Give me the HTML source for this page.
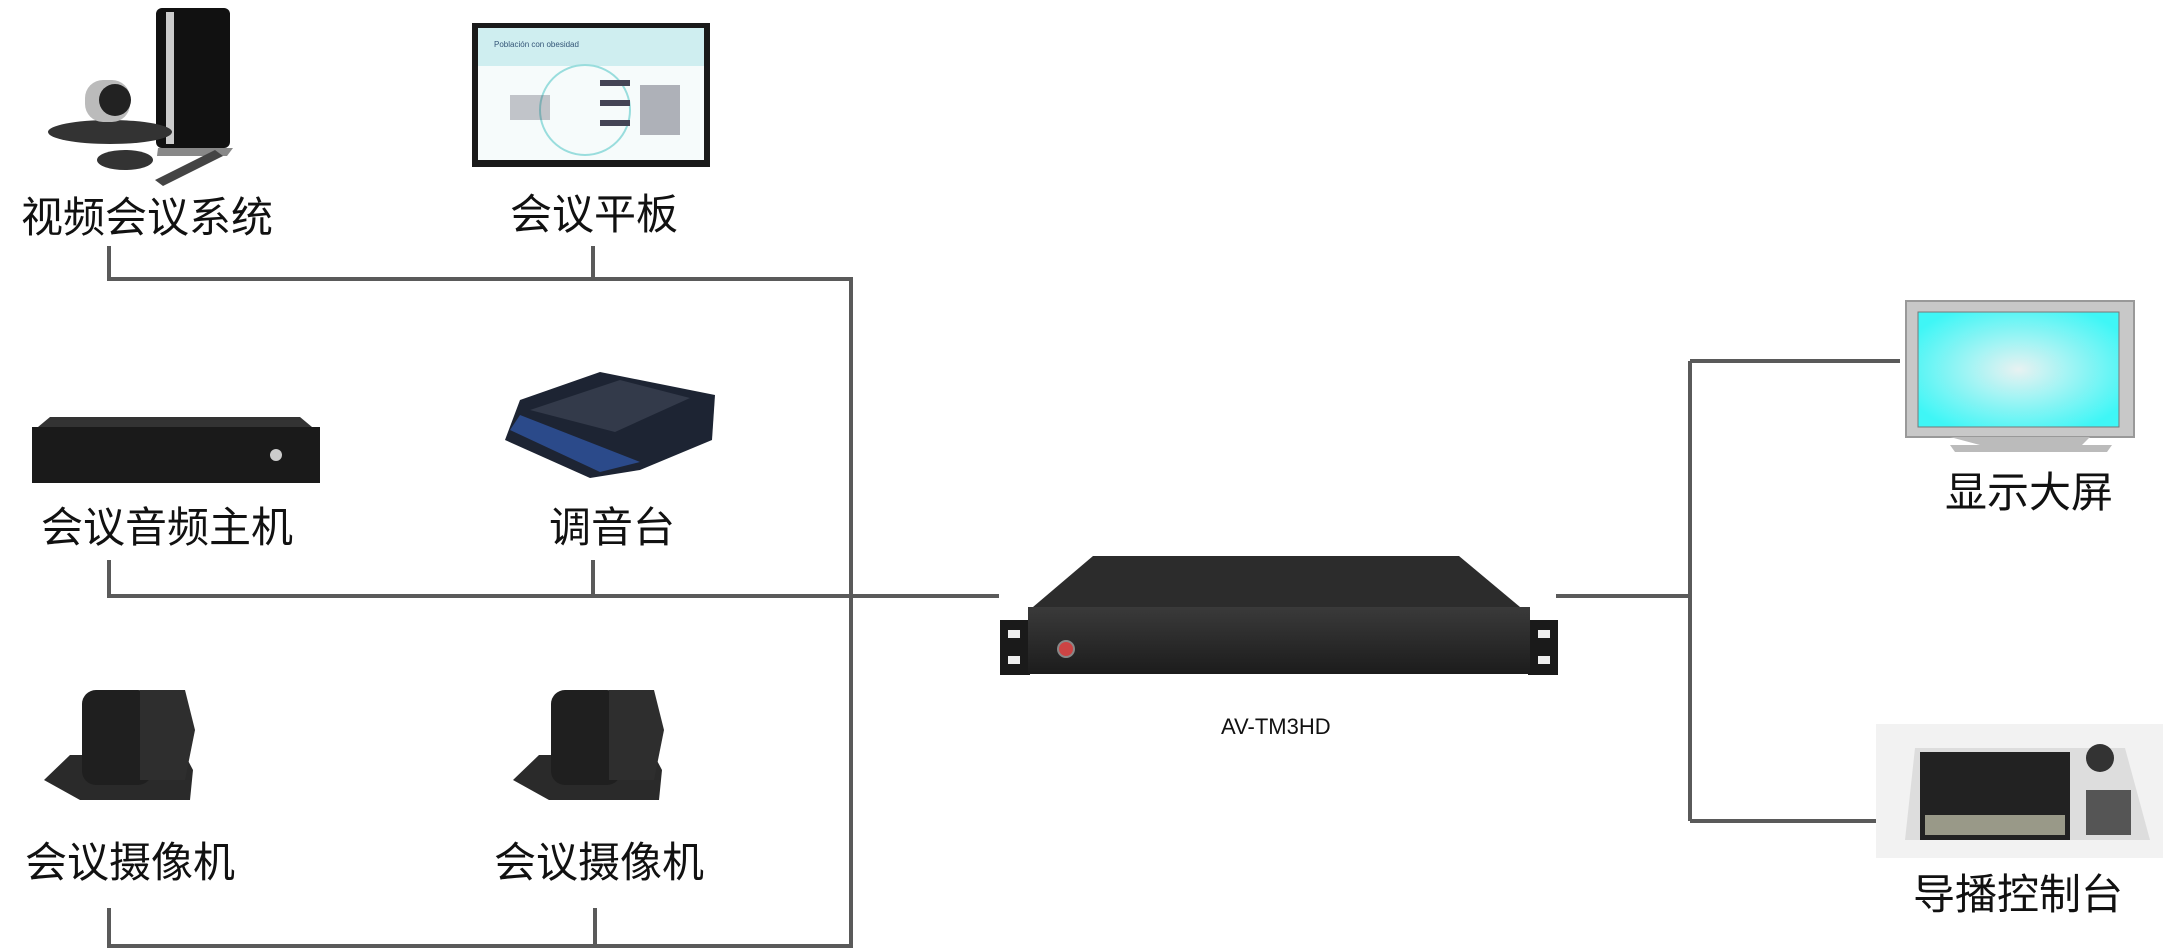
<!DOCTYPE html>
<html><head><meta charset="utf-8"><style>
html,body{margin:0;padding:0;background:#fff;width:2163px;height:950px;overflow:hidden}
svg{display:block}
text{font-family:"Liberation Sans","Noto Sans CJK SC",sans-serif;fill:#111}
</style></head><body>
<svg width="2163" height="950" viewBox="0 0 2163 950" xmlns="http://www.w3.org/2000/svg">
<defs>
<radialGradient id="scr" cx="50%" cy="50%" r="60%"><stop offset="0" stop-color="#e8f2f2"/><stop offset="1" stop-color="#3ff6f6"/></radialGradient>
<linearGradient id="box" x1="0" y1="0" x2="0" y2="1"><stop offset="0" stop-color="#3a3a3a"/><stop offset="1" stop-color="#1c1c1c"/></linearGradient>
</defs>
<g stroke="#5a5a5a" stroke-width="4" fill="none">
<path d="M109 246V279H851V946H109V908"/>
<path d="M593 246V279"/>
<path d="M109 560V596H999"/>
<path d="M593 560V596"/>
<path d="M595 908V946"/>
<path d="M1556 596H1690"/>
<path d="M1690 361V821"/>
<path d="M1690 361H1900"/>
<path d="M1690 821H1876"/>
</g>
<!-- video conf system -->
<rect x="156" y="8" width="74" height="140" rx="6" fill="#111"/>
<rect x="166" y="12" width="8" height="132" fill="#ccc"/>
<path d="M158 148h75l-6 8h-70z" fill="#888"/>
<ellipse cx="110" cy="132" rx="62" ry="12" fill="#333"/>
<rect x="85" y="80" width="45" height="42" rx="18" fill="#bbb"/>
<circle cx="115" cy="100" r="16" fill="#222"/>
<ellipse cx="125" cy="160" rx="28" ry="10" fill="#333"/>
<path d="M155 180l60-30 8 6-60 30z" fill="#444"/>
<!-- tablet -->
<rect x="472" y="23" width="238" height="144" fill="#1a1a1a"/>
<rect x="478" y="28" width="226" height="132" fill="#f6fbfb"/>
<rect x="478" y="28" width="226" height="38" fill="#cfeef0"/>
<text x="494" y="47" font-size="8" style="fill:#357">Población con obesidad</text>
<circle cx="585" cy="110" r="45" fill="none" stroke="#9dd" stroke-width="2"/>
<g fill="#445"><rect x="510" y="95" width="40" height="25" opacity=".3"/><rect x="600" y="80" width="30" height="6"/><rect x="600" y="100" width="30" height="6"/><rect x="600" y="120" width="30" height="6"/><rect x="640" y="85" width="40" height="50" opacity=".4"/></g>
<!-- audio host -->
<path d="M50 417H300L312 427H38z" fill="#333"/>
<rect x="32" y="427" width="288" height="56" fill="#1a1a1a"/>
<circle cx="276" cy="455" r="6" fill="#ccc"/>
<!-- mixer -->
<path d="M520 400L600 372 715 395 712 440 640 470 590 478 505 440z" fill="#1d2433"/>
<path d="M510 430L600 472 640 462 520 415z" fill="#2b4a8a"/>
<path d="M530 410L620 380 690 398 615 432z" fill="#333a4a"/>
<!-- cameras -->
<g id="cam">
<path d="M44 780L70 755H185L193 770 190 800H80z" fill="#2a2a2a"/>
<rect x="82" y="690" width="70" height="95" rx="14" fill="#1f1f1f"/>
<path d="M140 690h45l10 40-10 50h-45z" fill="#2e2e2e"/>
</g>
<use href="#cam" x="469"/>
<!-- main device -->
<path d="M1093 556H1459L1520 607H1033z" fill="#2c2c2c"/>
<rect x="1000" y="620" width="30" height="55" fill="#1a1a1a"/>
<rect x="1528" y="620" width="30" height="55" fill="#1a1a1a"/>
<rect x="1028" y="607" width="502" height="67" fill="url(#box)"/>
<circle cx="1066" cy="649" r="8" fill="#c44" stroke="#888" stroke-width="2"/>
<g fill="#eee"><rect x="1008" y="630" width="12" height="8"/><rect x="1008" y="656" width="12" height="8"/><rect x="1538" y="630" width="12" height="8"/><rect x="1538" y="656" width="12" height="8"/></g>
<!-- monitor -->
<rect x="1906" y="301" width="228" height="136" fill="#c8c8c8" stroke="#999" stroke-width="2"/>
<rect x="1918" y="312" width="201" height="115" fill="url(#scr)" stroke="#777"/>
<path d="M1950 437h140l-8 8h30l-5 7H1955l-5-7h30z" fill="#bbb"/>
<!-- console -->
<rect x="1876" y="724" width="287" height="134" fill="#f2f2f2"/>
<path d="M1915 748H2125L2150 840H1905z" fill="#ddd"/>
<rect x="1920" y="752" width="150" height="88" fill="#222"/>
<rect x="1925" y="815" width="140" height="20" fill="#998"/>
<circle cx="2100" cy="758" r="14" fill="#333"/>
<rect x="2086" y="790" width="45" height="45" fill="#555"/>
<!-- labels -->
<g font-size="42">
<text x="21" y="232">视频会议系统</text>
<text x="510" y="229">会议平板</text>
<text x="41" y="542">会议音频主机</text>
<text x="549" y="542">调音台</text>
<text x="25" y="877">会议摄像机</text>
<text x="494" y="877">会议摄像机</text>
<text x="1945" y="507">显示大屏</text>
<text x="1913" y="909">导播控制台</text>
</g>
<text x="1221" y="734" font-size="22">AV-TM3HD</text>
</svg>
</body></html>
